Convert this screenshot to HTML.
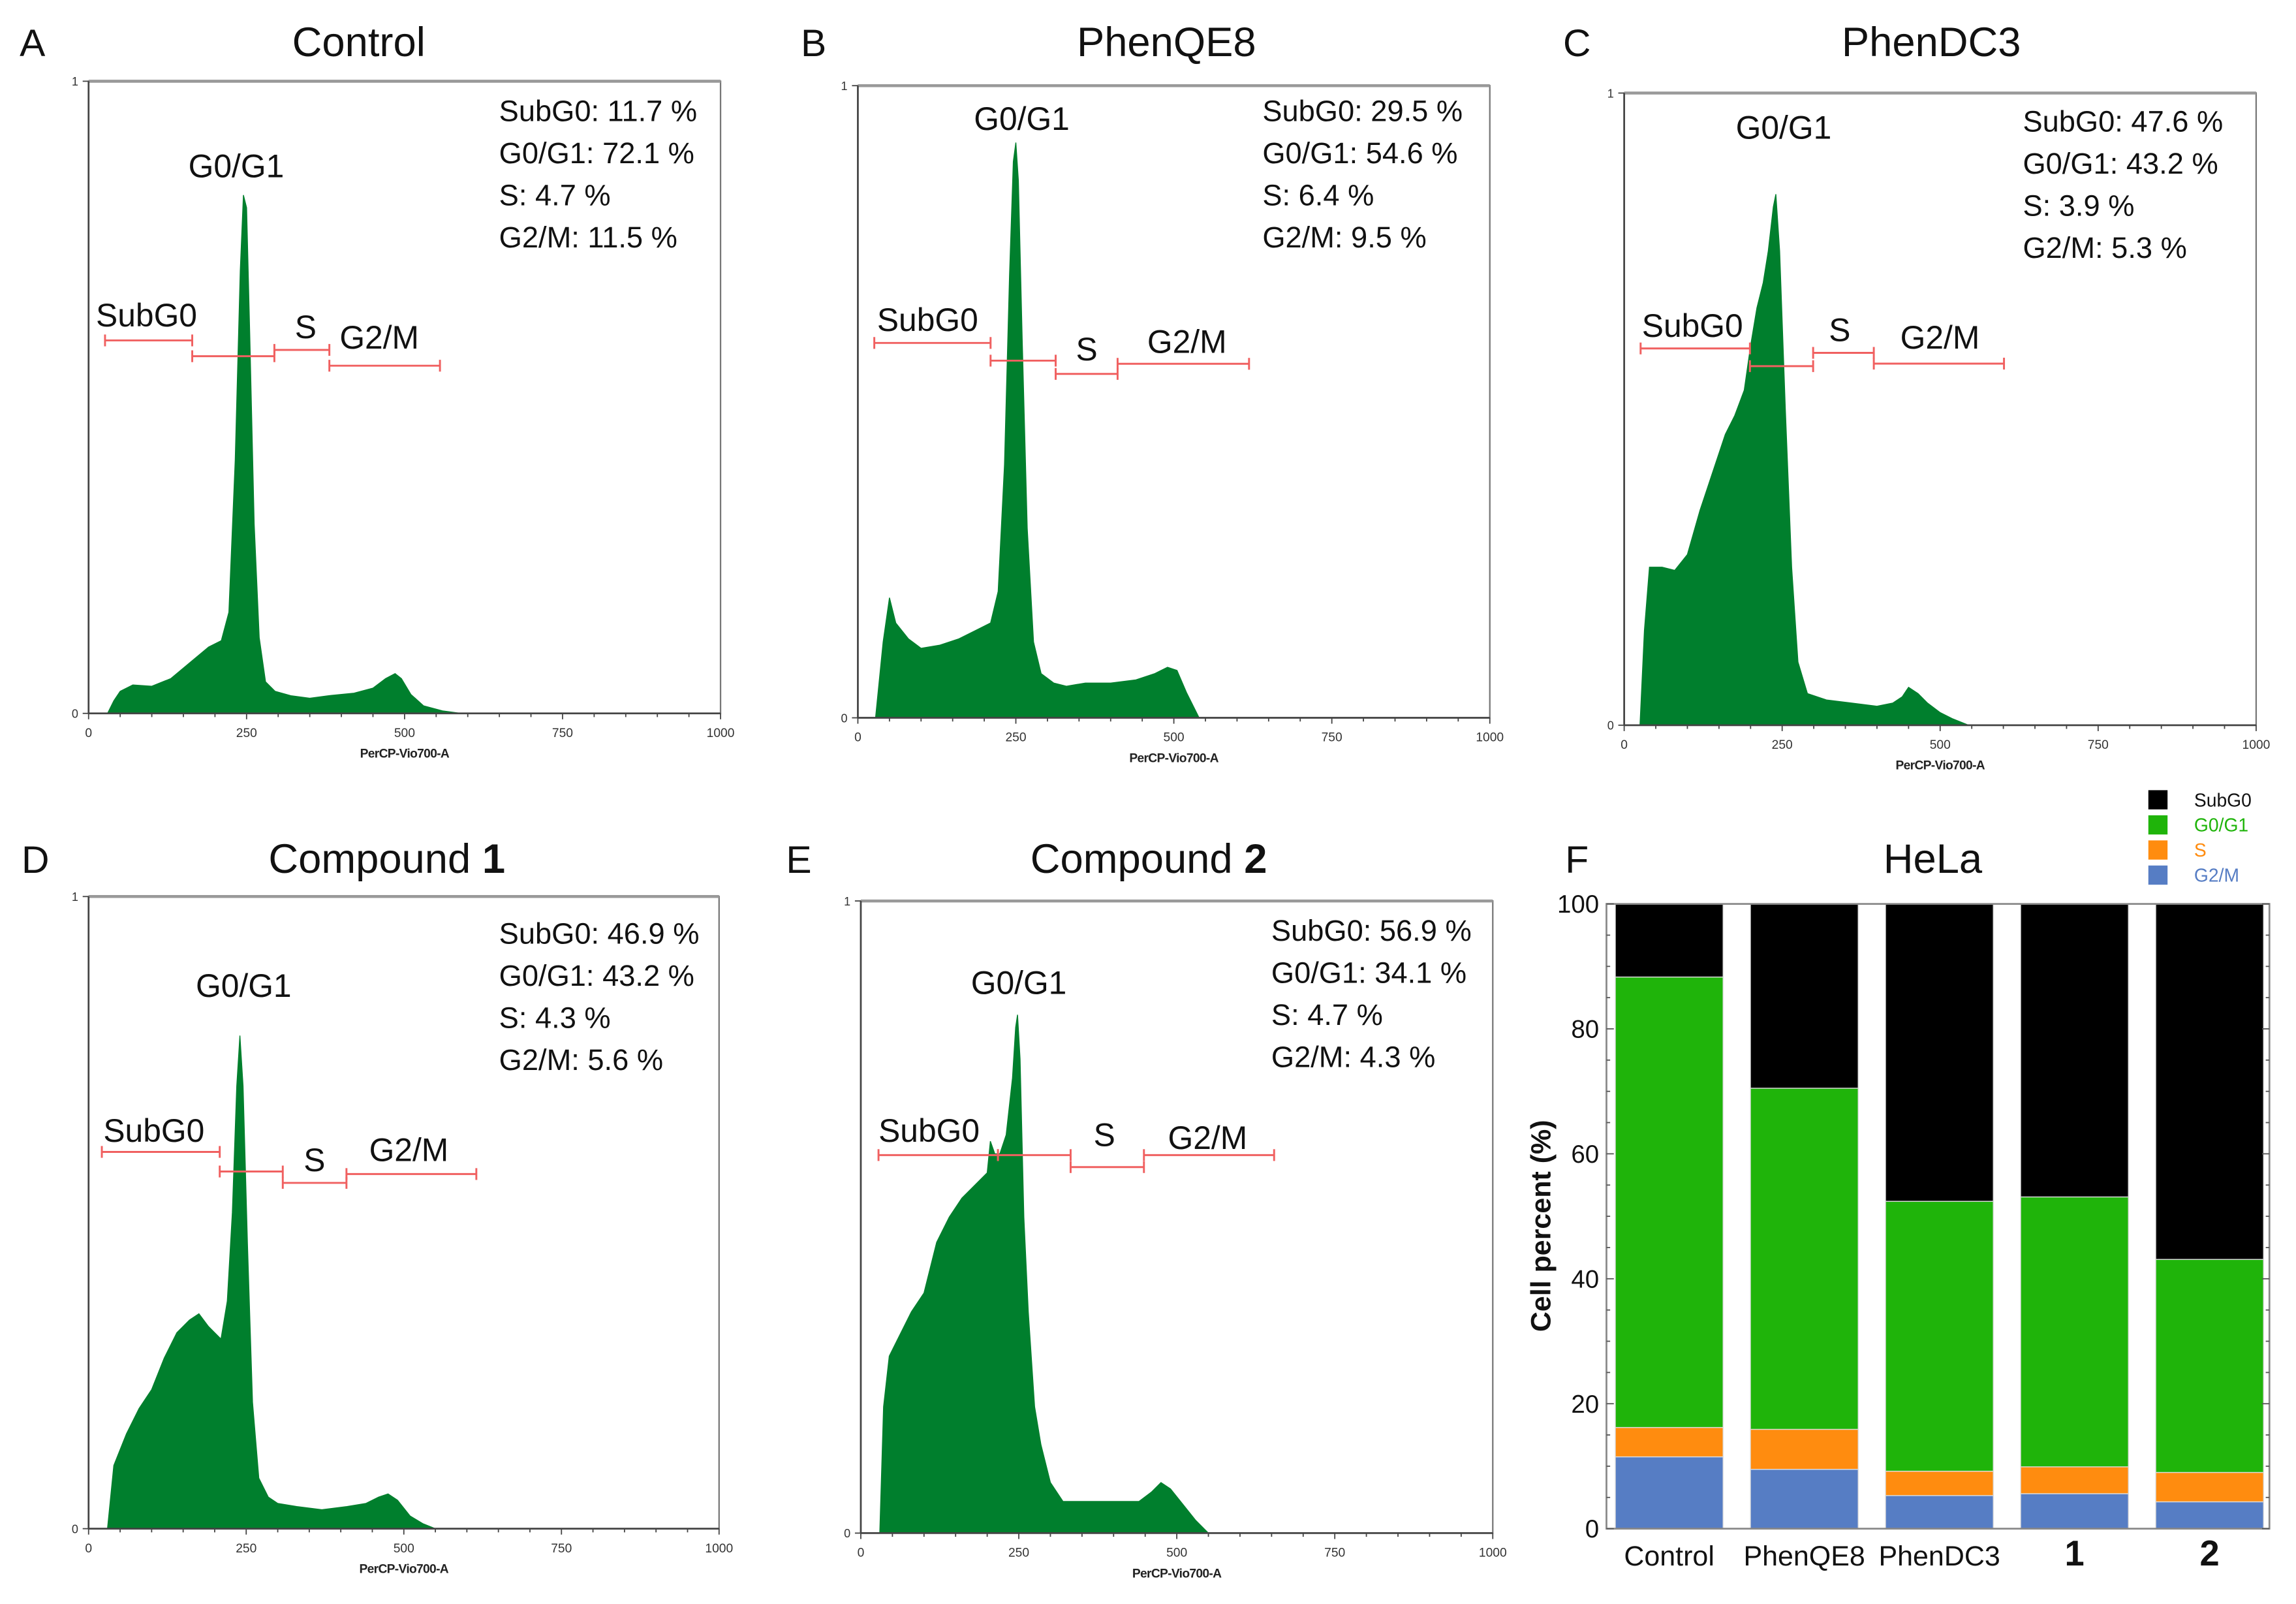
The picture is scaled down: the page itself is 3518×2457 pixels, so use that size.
<!DOCTYPE html>
<html><head><meta charset="utf-8"><style>
html,body{margin:0;padding:0;background:#fff;}
svg{display:block;}
text{font-family:"Liberation Sans",sans-serif;}
</style></head><body>
<svg id="fig" xmlns="http://www.w3.org/2000/svg" width="3518" height="2457" viewBox="0 0 1555 1086" preserveAspectRatio="none">
<rect width="1555" height="1086" fill="#fff"/>
</svg>
<script>
// ---------- Histogram data (x in PerCP-Vio700-A units, y as fraction of max scale) ----------
const histA_x = [30,40,50,70,100,130,160,190,210,222,232,240,245,250,255,262,270,280,295,320,350,380,420,450,470,485,495,510,530,560,590];
const histA_y = [0,0.02,0.035,0.045,0.043,0.055,0.08,0.105,0.115,0.16,0.4,0.7,0.82,0.8,0.6,0.3,0.12,0.05,0.035,0.028,0.024,0.028,0.032,0.04,0.055,0.063,0.055,0.03,0.012,0.004,0];
const histB_x = [28,40,50,60,80,100,130,160,190,210,222,232,240,246,250,254,260,268,278,290,310,330,360,400,440,470,490,505,520,540];
const histB_y = [0,0.12,0.19,0.15,0.125,0.11,0.115,0.125,0.14,0.15,0.2,0.4,0.7,0.88,0.91,0.85,0.6,0.3,0.12,0.07,0.055,0.05,0.055,0.055,0.06,0.07,0.08,0.075,0.04,0];
const histC_x = [25,32,40,60,80,100,120,140,160,175,190,200,210,220,228,236,240,246,255,265,275,290,320,360,400,425,440,450,465,480,500,520,545];
const histC_y = [0,0.15,0.25,0.25,0.245,0.27,0.34,0.4,0.46,0.49,0.53,0.6,0.66,0.7,0.75,0.82,0.84,0.75,0.5,0.25,0.1,0.05,0.04,0.035,0.03,0.035,0.045,0.06,0.05,0.035,0.02,0.01,0];
const histD_x = [30,40,60,80,100,120,140,160,175,190,200,210,220,228,235,240,245,252,260,270,285,300,330,370,410,440,460,475,490,510,530,550];
const histD_y = [0,0.1,0.15,0.19,0.22,0.27,0.31,0.33,0.34,0.32,0.31,0.3,0.36,0.5,0.7,0.78,0.7,0.45,0.2,0.08,0.05,0.04,0.035,0.03,0.035,0.04,0.05,0.055,0.045,0.02,0.008,0];
const histE_x = [30,36,45,60,80,100,120,140,160,180,200,205,212,220,230,240,245,248,252,258,265,275,285,300,320,350,400,440,460,475,490,510,530,550];
const histE_y = [0,0.2,0.28,0.31,0.35,0.38,0.46,0.5,0.53,0.55,0.57,0.62,0.6,0.6,0.63,0.72,0.8,0.82,0.75,0.5,0.35,0.2,0.14,0.08,0.05,0.05,0.05,0.05,0.065,0.08,0.07,0.045,0.02,0];

// ---------- Bar chart (panel F) data ----------
const groups = ["Control","PhenQE8","PhenDC3","1","2"];
const g2m = [11.5,9.5,5.3,5.6,4.3];
const sPhase = [4.7,6.4,3.9,4.3,4.7];
const g0g1 = [72.1,54.6,43.2,43.2,34.1];
const subg0 = [11.7,29.5,47.6,46.9,56.9];
const yTicks = [0,20,40,60,80,100];
const histTicks = [0,250,500,750,1000];

const NS = "http://www.w3.org/2000/svg";
const svg = document.getElementById('fig');
function mk(tag, attrs, parent){
  const e = document.createElementNS(NS, tag);
  for (const k in attrs) e.setAttribute(k, attrs[k]);
  (parent||svg).appendChild(e);
  return e;
}
function txt(str, attrs, parent){
  const t = mk('text', attrs, parent);
  t.textContent = str;
  return t;
}

const panels = [
  {id:'a', letter:'A', title:'Control', bold:null, f:[60,488,55,483], hx:histA_x, hy:histA_y, lx:22, ty:38, tc:243,
   stats:['SubG0: 11.7 %','G0/G1:  72.1 %','S: 4.7 %','G2/M: 11.5 %'], sx:338, sy:82,
   g0:[160,120], sub:[65,221], s:[207,229], g2:[230,236],
   gates:[[26,164,0.59],[164,294,0.565],[294,381,0.575],[381,556,0.55]]},
  {id:'b', letter:'B', title:'PhenQE8', bold:null, f:[581,1009,58,486], hx:histB_x, hy:histB_y, lx:551, ty:38, tc:790,
   stats:['SubG0: 29.5 %','G0/G1:  54.6 %','S: 6.4 %','G2/M: 9.5 %'], sx:855, sy:82,
   g0:[692,88], sub:[594,224], s:[736,244], g2:[777,239],
   gates:[[26,210,0.593],[210,313,0.565],[313,411,0.544],[411,619,0.56]]},
  {id:'c', letter:'C', title:'PhenDC3', bold:null, f:[1100,1528,63,491], hx:histC_x, hy:histC_y, lx:1068, ty:38, tc:1308,
   stats:['SubG0: 47.6 %','G0/G1:  43.2 %','S: 3.9 %','G2/M: 5.3 %'], sx:1370, sy:89,
   g0:[1208,94], sub:[1112,228], s:[1246,231], g2:[1287,236],
   gates:[[26,199,0.596],[199,299,0.568],[299,395,0.589],[395,601,0.572]]},
  {id:'d', letter:'D', title:'Compound ', bold:'1', f:[60,487,607,1035], hx:histD_x, hy:histD_y, lx:24, ty:591, tc:262,
   stats:['SubG0: 46.9 %','G0/G1:  43.2 %','S: 4.3 %','G2/M: 5.6 %'], sx:338, sy:639,
   g0:[165,675], sub:[70,773], s:[213,793], g2:[250,786],
   gates:[[21,208,0.596],[208,308,0.565],[308,409,0.547],[409,615,0.561]]},
  {id:'e', letter:'E', title:'Compound ', bold:'2', f:[583,1011,610,1038], hx:histE_x, hy:histE_y, lx:541, ty:591, tc:778,
   stats:['SubG0: 56.9 %','G0/G1:  34.1 %','S: 4.7 %','G2/M: 4.3 %'], sx:861, sy:637,
   g0:[690,673], sub:[595,773], s:[748,776], g2:[791,778],
   gates:[[28,217,0.598],[217,332,0.598],[332,448,0.579],[448,654,0.598]]}
];

panels.forEach(p => {
  const [x0,x1,y0,y1] = p.f;
  const X = v => x0 + (v/1000)*(x1-x0);
  const Y = v => y1 - v*(y1-y0);
  const g = mk('g', {});
  
  

  const L = txt(p.letter, {x:p.lx, y:p.ty, 'font-size':26, 'text-anchor':'middle', fill:'#111'}, g);
  
  

  const T = txt(p.title, {x:p.tc, y:p.ty, 'font-size':28, 'text-anchor':'middle', fill:'#111'}, g);
  if (p.bold){ const b = mk('tspan', {'font-weight':'bold'}, T); b.textContent = p.bold; }
  
  

  // frame
  const fr = mk('rect', {x:x0, y:y0, width:x1-x0, height:y1-y0, fill:'none', stroke:'#777', 'stroke-width':1}, g);
  
  
  mk('line', {x1:x0, y1:y0, x2:x1, y2:y0, stroke:'#999', 'stroke-width':2}, g);

  // histogram
  let d = 'M' + X(p.hx[0]) + ',' + Y(0);
  for (let i=0;i<p.hx.length;i++) d += ' L' + X(p.hx[i]).toFixed(2) + ',' + Y(p.hy[i]).toFixed(2);
  d += ' L' + X(p.hx[p.hx.length-1]) + ',' + Y(0) + 'Z';
  const h = mk('path', {d:d, fill:'#007f2d', stroke:'#007f2d', 'stroke-width':0.6}, g);
  
  

  // axes (bottom + left, dark)
  mk('line', {x1:x0, y1:y1, x2:x1, y2:y1, stroke:'#444', 'stroke-width':1.2}, g);
  mk('line', {x1:x0, y1:y0, x2:x0, y2:y1, stroke:'#444', 'stroke-width':1.2}, g);
  for (let v=0; v<=1000; v+=50){
    mk('line', {x1:X(v), y1:y1, x2:X(v), y2:y1+(v%250===0?4:2.5), stroke:'#444', 'stroke-width':0.8}, g);
  }
  histTicks.forEach(v => {
    const tl = txt(String(v), {x:X(v), y:y1+16, 'font-size':8.5, 'text-anchor':'middle', fill:'#333'}, g);
    
    
  });
  mk('line', {x1:x0-4, y1:y0, x2:x0, y2:y0, stroke:'#444', 'stroke-width':0.8}, g);
  mk('line', {x1:x0-4, y1:y1, x2:x0, y2:y1, stroke:'#444', 'stroke-width':0.8}, g);
  const t1 = txt('1', {x:x0-7, y:y0+3, 'font-size':8, 'text-anchor':'end', fill:'#333'}, g);
  
  
  const t0 = txt('0', {x:x0-7, y:y1+3, 'font-size':8, 'text-anchor':'end', fill:'#333'}, g);
  
  
  const at = txt('PerCP-Vio700-A', {x:(x0+x1)/2, y:y1+30, 'font-size':8.5, 'font-weight':'bold', 'text-anchor':'middle', fill:'#222', 'letter-spacing':-0.3}, g);
  
  

  // gates
  p.gates.forEach((gt, i) => {
    const gy = Y(gt[2]);
    const gl = mk('g', {stroke:'#f06060', 'stroke-width':1.3}, g);
    
    
    mk('line', {x1:X(gt[0]), y1:gy, x2:X(gt[1]), y2:gy}, gl);
    mk('line', {x1:X(gt[0]), y1:gy-4, x2:X(gt[0]), y2:gy+4}, gl);
    mk('line', {x1:X(gt[1]), y1:gy-4, x2:X(gt[1]), y2:gy+4}, gl);
  });

  // gate labels
  const lg = txt('G0/G1', {x:p.g0[0], y:p.g0[1], 'font-size':22, 'text-anchor':'middle', fill:'#111'}, g);
  
  
  const ls = txt('SubG0', {x:p.sub[0], y:p.sub[1], 'font-size':22, fill:'#111'}, g);
  
  
  const lss = txt('S', {x:p.s[0], y:p.s[1], 'font-size':22, 'text-anchor':'middle', fill:'#111'}, g);
  
  
  const l2 = txt('G2/M', {x:p.g2[0], y:p.g2[1], 'font-size':22, fill:'#111'}, g);
  
  

  // stats
  p.stats.forEach((s, i) => {
    const st = txt(s, {x:p.sx, y:p.sy + i*28.5, 'font-size':20, fill:'#111', 'xml:space':'preserve'}, g);
    
    
  });
});

// ---------- Panel F ----------
(function(){
  const x0 = 1088, x1 = 1537, y0 = 612, y1 = 1035;
  const Y = v => y1 - (v/100)*(y1-y0);
  const slot = (x1-x0)/groups.length;
  const barW = 73;
  const bx = i => x0 + 5 + i*((1533-1094-73)/4) + 1;
  const g = mk('g', {});
  
  

  const L = txt('F', {x:1068, y:591, 'font-size':26, 'text-anchor':'middle', fill:'#111'}, g);
  
  
  const T = txt('HeLa', {x:1309, y:591, 'font-size':28, 'text-anchor':'middle', fill:'#111'}, g);
  
  

  const series = [
    {name:'g2m', vals:g2m, color:'#567dc4'},
    {name:'s', vals:sPhase, color:'#ff8c0f'},
    {name:'g0g1', vals:g0g1, color:'#1fb40a'},
    {name:'subg0', vals:subg0, color:'#000000'}
  ];
  groups.forEach((grp, i) => {
    let base = 0;
    series.forEach(s => {
      const v = s.vals[i];
      const r = mk('rect', {x:bx(i), y:Y(base+v), width:barW, height:Y(base)-Y(base+v), fill:s.color, stroke:'#ddd', 'stroke-width':0.6}, g);
      
      
      base += v;
    });
    const lbl = txt(grp, {x:bx(i)+barW/2, y:1060, 'font-size':(grp.length===1?24:19), 'font-weight':(grp.length===1?'bold':'normal'), 'text-anchor':'middle', fill:'#111'}, g);
    
    
  });

  // frame
  const fr = mk('rect', {x:x0, y:y0, width:x1-x0, height:y1-y0, fill:'none', stroke:'#888', 'stroke-width':1.2}, g);
  
  
  for (let v=0; v<=100; v+=5){
    const len = v%20===0 ? 5 : 2.5;
    mk('line', {x1:x0, y1:Y(v), x2:x0+len, y2:Y(v), stroke:'#555', 'stroke-width':0.8}, g);
    mk('line', {x1:x1, y1:Y(v), x2:x1-len, y2:Y(v), stroke:'#555', 'stroke-width':0.8}, g);
  }
  yTicks.forEach(v => {
    const tl = txt(String(v), {x:x0-5, y:Y(v)+6, 'font-size':17, 'text-anchor':'end', fill:'#111'}, g);
    
    
  });
  const yt = txt('Cell percent (%)', {x:0, y:0, 'font-size':19, 'font-weight':'bold', 'text-anchor':'middle', fill:'#111', transform:'translate(1050,830) rotate(-90)'}, g);
  
  

  // legend
  const legend = [['SubG0','#000000','#111'],['G0/G1','#1fb40a','#1fb40a'],['S','#ff8c0f','#ff8c0f'],['G2/M','#567dc4','#567dc4']];
  legend.forEach((l, i) => {
    const lg = mk('g', {}, g);
    
    
    mk('rect', {x:1455, y:535+i*17, width:13, height:13, fill:l[1]}, lg);
    txt(l[0], {x:1486, y:546+i*17, 'font-size':12.5, fill:l[2]}, lg);
  });
})();
</script>
</body></html>
